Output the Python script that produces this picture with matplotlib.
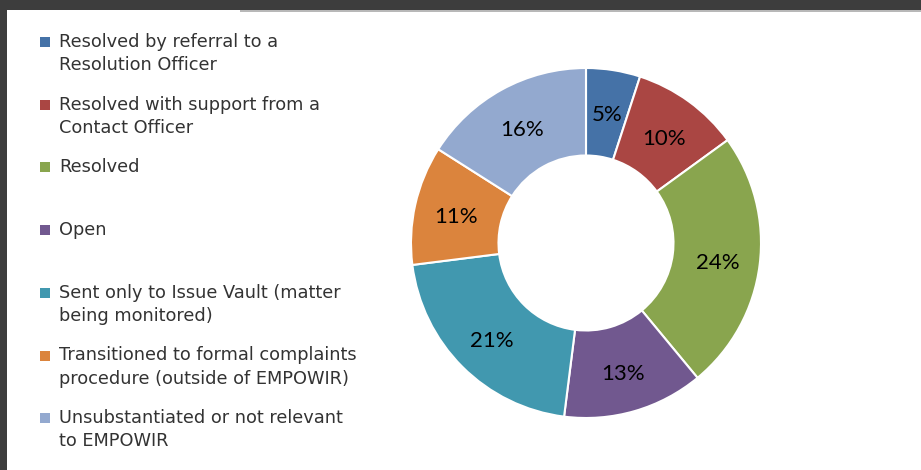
import matplotlib
matplotlib.use("Agg")
import matplotlib.pyplot as plt
from matplotlib.patches import Rectangle

labels = [
    "Resolved by referral to a\nResolution Officer",
    "Resolved with support from a\nContact Officer",
    "Resolved",
    "Open",
    "Sent only to Issue Vault (matter\nbeing monitored)",
    "Transitioned to formal complaints\nprocedure (outside of EMPOWIR)",
    "Unsubstantiated or not relevant\nto EMPOWIR",
]
values = [5, 10, 24, 13, 21, 11, 16]
colors = ["#4572A7", "#AA4643", "#89A54E", "#71588F", "#4198AF", "#DB843D", "#93A9CF"]

W, H = 921, 470
fig = plt.figure(figsize=(W / 100, H / 100), dpi=100)
fig.patch.set_facecolor("white")

# dark screenshot frame on top and left
fig.patches.append(Rectangle((0, 1 - 10 / H), 1, 10 / H, transform=fig.transFigure,
                             facecolor="#3d3d3d", edgecolor="none", zorder=0))
fig.patches.append(Rectangle((0, 0), 7 / W, 1, transform=fig.transFigure,
                             facecolor="#3d3d3d", edgecolor="none", zorder=0))
fig.patches.append(Rectangle((240 / W, 1 - 12 / H), 1, 2 / H, transform=fig.transFigure,
                             facecolor="#b8b8b8", edgecolor="none", zorder=0))

# donut
cx, cy, r = 586, 243, 175
ax = fig.add_axes([(cx - r) / W, (H - cy - r) / H, 2 * r / W, 2 * r / H])
wedges, texts = ax.pie(values, colors=colors, startangle=90, counterclock=False,
                       radius=1, wedgeprops=dict(width=0.5, edgecolor="white", linewidth=1.5),
                       labels=[f"{v}%" for v in values], labeldistance=0.76,
                       textprops=dict(fontsize=16, family=["Lato", "DejaVu Sans"], color="black"))
for t in texts:
    x, y = t.get_position()
    t.set_position((x, y - 0.02))
    t.set_ha("center")
    t.set_va("center")
ax.set_xlim(-1.0, 1.0)
ax.set_ylim(-1.0, 1.0)
ax.set_aspect("equal")
ax.axis("off")

# legend drawn by hand
y0, step, line_h = 42, 62.7, 23
for i, (lab, col) in enumerate(zip(labels, colors)):
    y = y0 + i * step
    fig.patches.append(Rectangle((40 / W, 1 - (y + 5) / H), 10 / W, 10 / H,
                                 transform=fig.transFigure, facecolor=col, edgecolor="none"))
    for j, line in enumerate(lab.split("\n")):
        fig.text(59 / W, 1 - (y + j * line_h) / H, line, fontsize=12.8,
                 family="DejaVu Sans", color="#333333", va="center", ha="left")

fig.savefig("out.png", dpi=100)
